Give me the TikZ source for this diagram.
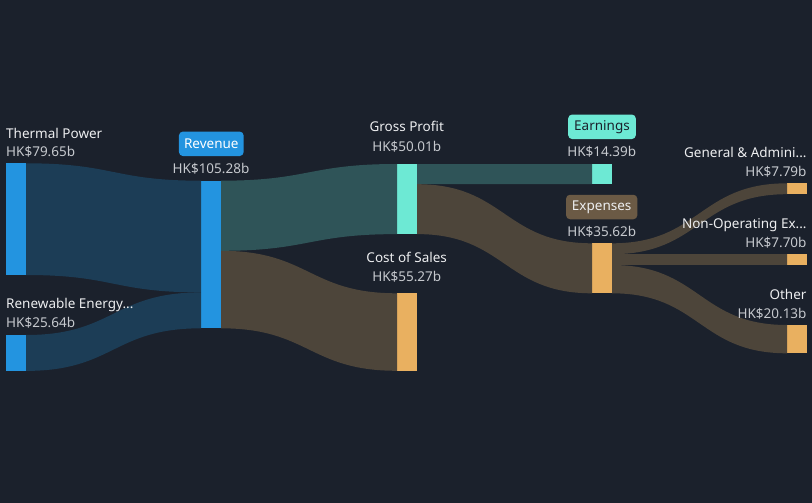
\documentclass[tikz,border=0pt]{standalone}
\usepackage{fontspec}
\setmainfont{Noto Sans}
\usetikzlibrary{positioning,calc}
\definecolor{bgcol}{HTML}{1B212C}
\definecolor{barblue}{HTML}{2394E0}
\definecolor{barteal}{HTML}{6DE9D4}
\definecolor{barorange}{HTML}{E9B060}
\definecolor{flowblue}{HTML}{1C3D56}
\definecolor{flowteal}{HTML}{2F5458}
\definecolor{flowbrown}{HTML}{4D453A}
\definecolor{tagbrown}{HTML}{6B5A45}
\definecolor{lbltext}{HTML}{EDEEF0}
\definecolor{amttext}{HTML}{C6C9CE}
\newcommand{\band}[5]{\fill[#5] (#1) .. controls +(88,0) and +(-88,0) .. (#3) -- (#4) .. controls +(-88,0) and +(88,0) .. (#2) -- cycle;}

\begin{document}
\begin{tikzpicture}[x=1pt, y=-1pt,
  bar/.style={fill=#1, minimum width=20pt, inner sep=0pt, outer sep=0pt, anchor=north west},
  lbl/.style={font=\fontsize{13.5}{16}\selectfont, text=lbltext, inner sep=0pt},
  amt/.style={font=\fontsize{13.5}{16}\selectfont, text=amttext, inner sep=0pt},
  tag/.style={fill=#1, rounded corners=4pt, minimum height=24.5pt, inner sep=0pt, font=\fontsize{13.5}{16}\selectfont}]

\fill[bgcol] (0,0) rectangle (812,503);

\node[bar=barblue, minimum height=111.7pt] (TP) at (6,163.3) {};
\node[bar=barblue, minimum height=35.9pt] (RE) at (6,335) {};
\node[bar=barblue, minimum height=147.6pt] (REV) at (201,180.7) {};
\node[bar=barteal, minimum height=70.1pt] (GP) at (397,164) {};
\node[bar=barorange, minimum height=77.5pt] (COS) at (397,293.3) {};
\node[bar=barteal, minimum height=20.2pt] (EA) at (592,164) {};
\node[bar=barorange, minimum height=50pt] (EX) at (592,243.3) {};
\node[bar=barorange, minimum height=10.9pt] (GA) at (787,183.3) {};
\node[bar=barorange, minimum height=10.8pt] (NO) at (787,254.1) {};
\node[bar=barorange, minimum height=28.3pt] (OT) at (787,325) {};

\coordinate (R1) at ($(REV.north west)+(0,111.7)$);
\coordinate (R2) at ($(REV.north east)+(0,70.1)$);
\coordinate (G1) at ($(GP.north east)+(0,20.2)$);
\coordinate (X1) at ($(EX.north east)+(0,10.9)$);
\coordinate (X2) at ($(EX.north east)+(0,21.7)$);

\band{TP.north east}{TP.south east}{REV.north west}{R1}{flowblue}
\band{RE.north east}{RE.south east}{R1}{REV.south west}{flowblue}
\band{REV.north east}{R2}{GP.north west}{GP.south west}{flowteal}
\band{R2}{REV.south east}{COS.north west}{COS.south west}{flowbrown}
\band{GP.north east}{G1}{EA.north west}{EA.south west}{flowteal}
\band{G1}{GP.south east}{EX.north west}{EX.south west}{flowbrown}
\band{EX.north east}{X1}{GA.north west}{GA.south west}{flowbrown}
\band{X1}{X2}{NO.north west}{NO.south west}{flowbrown}
\band{X2}{EX.south east}{OT.north west}{OT.south west}{flowbrown}

\node[lbl, anchor=base west] (TPl) at (6,138.3) {Thermal Power};
\node[amt, anchor=base west] (TPa) at (6,156.7) {HK\$79.65b};
\node[lbl, anchor=base west] (REl) at (6,308.3) {Renewable Energy...};
\node[amt, anchor=base west] (REa) at (6,327.3) {HK\$25.64b};
\node[tag=barblue, text=white, minimum width=64.7pt] (REVt) at (211.3,143.8) {Revenue};
\node[amt, anchor=base] (REVa) at (211,173.3) {HK\$105.28b};
\node[lbl, anchor=base] (GPl) at (406.7,131.7) {Gross Profit};
\node[amt, anchor=base] (GPa) at (406.7,151) {HK\$50.01b};
\node[lbl, anchor=base] (COSl) at (406.7,262.3) {Cost of Sales};
\node[amt, anchor=base] (COSa) at (406.7,281) {HK\$55.27b};
\node[tag=barteal, text=bgcol, minimum width=67.7pt] (EAt) at (602,126.8) {Earnings};
\node[amt, anchor=base] (EAa) at (601.7,156.7) {HK\$14.39b};
\node[tag=tagbrown, text=lbltext, minimum width=71.3pt] (EXt) at (601.7,207) {Expenses};
\node[amt, anchor=base] (EXa) at (601.7,236.7) {HK\$35.62b};
\node[lbl, anchor=base east] (GAl) at (806.7,157.3) {General \& Admini...};
\node[amt, anchor=base east] (GAa) at (806.7,176) {HK\$7.79b};
\node[lbl, anchor=base east] (NOl) at (806.7,228.3) {Non-Operating Ex...};
\node[amt, anchor=base east] (NOa) at (806.7,247.3) {HK\$7.70b};
\node[lbl, anchor=base east] (OTl) at (806.7,299) {Other};
\node[amt, anchor=base east] (OTa) at (806.7,318.3) {HK\$20.13b};
\end{tikzpicture}
\end{document}
